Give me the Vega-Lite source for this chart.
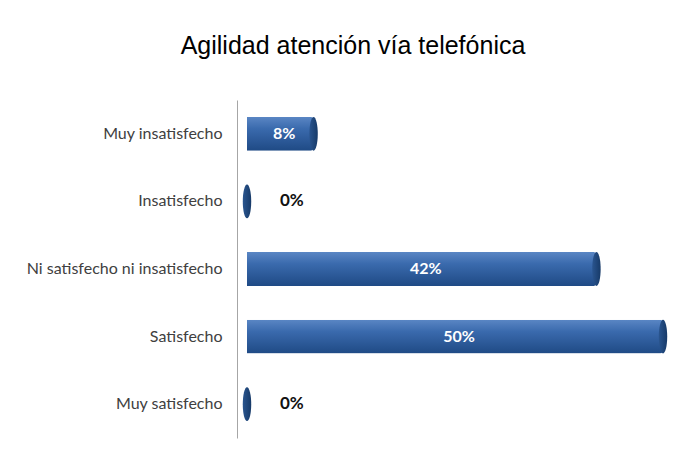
{
  "$schema": "https://vega.github.io/schema/vega-lite/v6.json",
  "width": 416,
  "height": 338,
  "autosize": {"type": "none"},
  "padding": {"left": 247, "top": 100, "right": 26, "bottom": 20},
  "background": "white",
  "config": {"view": {"stroke": null}},
  "title": {
    "text": "Agilidad atención vía telefónica",
    "font": "Liberation Sans",
    "fontSize": 25,
    "fontWeight": "normal",
    "color": "#000000",
    "anchor": "middle",
    "dx": -102,
    "offset": 41
  },
  "data": {
    "values": [
      {"categoria": "Muy insatisfecho", "valor": 8, "etiqueta": "8%"},
      {"categoria": "Insatisfecho", "valor": 0, "etiqueta": "0%"},
      {"categoria": "Ni satisfecho ni insatisfecho", "valor": 42, "etiqueta": "42%"},
      {"categoria": "Satisfecho", "valor": 50, "etiqueta": "50%"},
      {"categoria": "Muy satisfecho", "valor": 0, "etiqueta": "0%"}
    ]
  },
  "encoding": {
    "y": {
      "field": "categoria",
      "type": "nominal",
      "sort": ["Muy insatisfecho", "Insatisfecho", "Ni satisfecho ni insatisfecho", "Satisfecho", "Muy satisfecho"],
      "scale": {"paddingInner": 0.5, "paddingOuter": 0.25},
      "axis": {
        "title": null,
        "domain": true,
        "domainColor": "#a6a6a6",
        "offset": 10,
        "ticks": false,
        "grid": false,
        "labelPadding": 15,
        "labelFont": "Lato",
        "labelFontSize": 16,
        "labelColor": "#404040",
        "labelLimit": 300
      }
    }
  },
  "layer": [
    {
      "mark": {
        "type": "bar",
        "cornerRadiusEnd": 3,
        "color": {
          "gradient": "linear",
          "x1": 0, "y1": 0, "x2": 0, "y2": 1,
          "stops": [
            {"offset": 0, "color": "#5a86c4"},
            {"offset": 0.35, "color": "#3a6aad"},
            {"offset": 1, "color": "#1f4a85"}
          ]
        }
      },
      "encoding": {
        "x": {"field": "valor", "type": "quantitative", "scale": {"domain": [0, 50], "nice": false}, "axis": null}
      }
    },
    {
      "mark": {
        "type": "point",
        "filled": true,
        "opacity": 1,
        "shape": "M0,-1 A0.25,1 0 1,1 0,1 A0.25,1 0 1,1 0,-1 Z",
        "size": 1140,
        "color": {
          "gradient": "linear",
          "x1": 0, "y1": 0, "x2": 1, "y2": 0,
          "stops": [
            {"offset": 0, "color": "#2a558f"},
            {"offset": 1, "color": "#173a68"}
          ]
        }
      },
      "encoding": {
        "x": {"field": "valor", "type": "quantitative"}
      }
    },
    {
      "transform": [
        {"filter": "datum.valor > 0"},
        {"calculate": "datum.valor / 2", "as": "centro"}
      ],
      "mark": {"type": "text", "font": "Lato", "fontSize": 16, "fontWeight": "bold", "color": "white", "align": "center", "baseline": "middle", "dx": 4},
      "encoding": {
        "x": {"field": "centro", "type": "quantitative"},
        "text": {"field": "etiqueta"}
      }
    },
    {
      "transform": [{"filter": "datum.valor == 0"}],
      "mark": {"type": "text", "font": "Lato", "fontSize": 17, "fontWeight": "bold", "color": "#111111", "align": "left", "baseline": "middle", "dx": 33},
      "encoding": {
        "x": {"field": "valor", "type": "quantitative"},
        "text": {"field": "etiqueta"}
      }
    }
  ]
}
